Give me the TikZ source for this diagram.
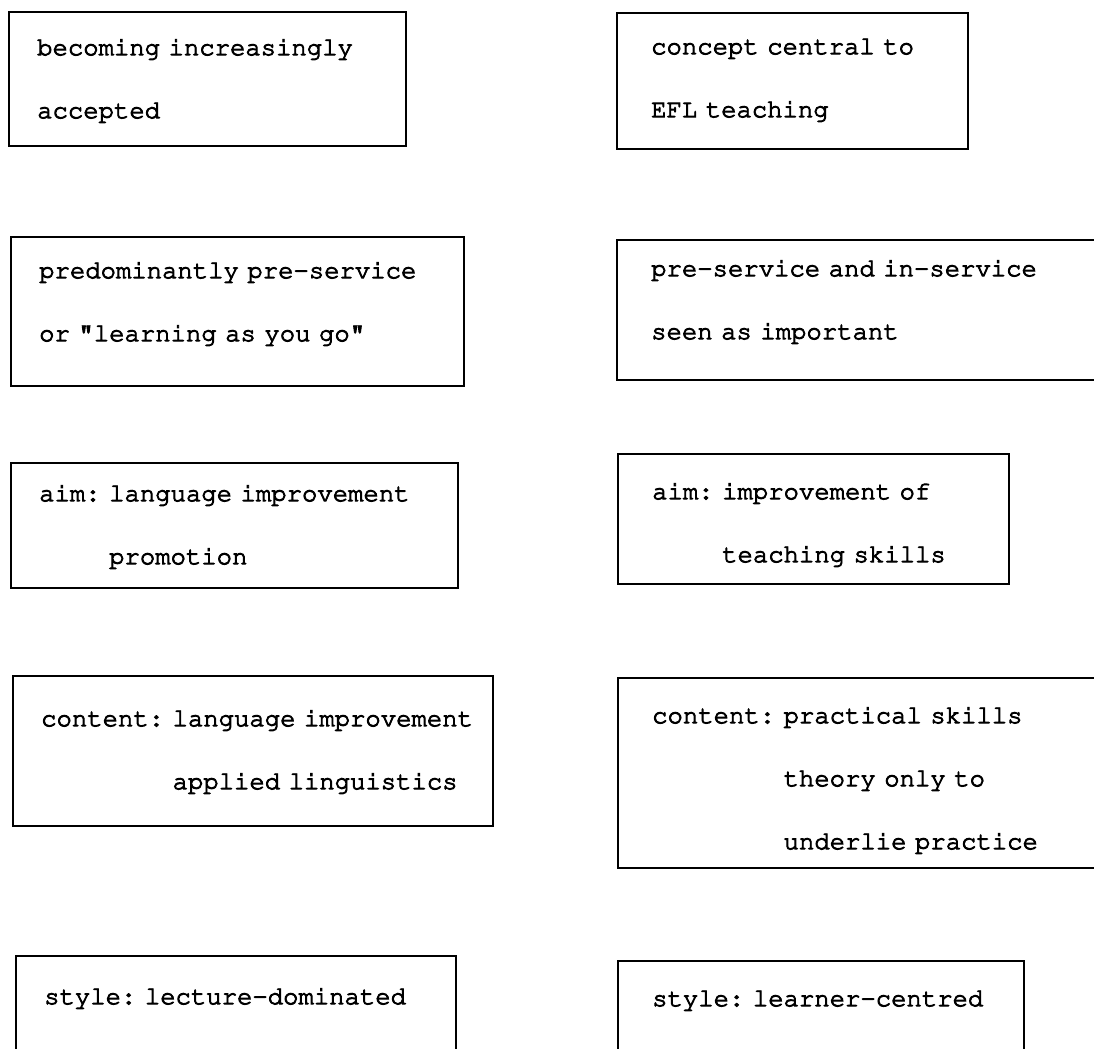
\documentclass[tikz,border=0pt]{standalone}
\usepackage[T1]{fontenc}
\usepackage{courier}

\tikzset{
  box/.style={draw, rectangle, anchor=north west, line width=1.2pt,
    inner xsep=2pt, inner ysep=0pt, align=left, text height=8pt,
    font=\ttfamily\fontsize{12.8}{31.5}\selectfont,
    execute at begin node={\leftskip=#1\special{pdf:literal direct q 2 Tr 0.45 w}},
    execute at end node={\special{pdf:literal direct Q}}},
  box/.default=12pt
}

\begin{document}
\frenchspacing
\begin{tikzpicture}[x=0.5pt, y=-0.5pt]
\useasboundingbox (0,0) rectangle (1094,1049);
\clip (0,0) rectangle (1094,1049);

% left column
\node[box, text width=194.5pt, minimum height=67pt, text depth=32pt] (accepted) at (8,11)
  {becoming increasingly\\accepted};
\node[box, text width=222.5pt, minimum height=74.5pt, text depth=41.5pt] (preservice) at (10,236)
  {predominantly pre-service\\or "learning as you go"};
\node[box, text width=219.5pt, minimum height=62.5pt, text depth=32.5pt] (aimlang) at (10,462)
  {aim: language improvement\\\phantom{aim: }promotion};
\node[box, text width=236pt, minimum height=75pt, text depth=33pt] (contlang) at (12,675)
  {content: language improvement\\\phantom{content: }applied linguistics};
\node[box, text width=216pt, minimum height=50pt, text depth=10pt] (stylelecture) at (15,955)
  {style: lecture-dominated};

% right column
\node[box=15pt, text width=171.5pt, minimum height=68pt, text depth=35pt] (central) at (616,12)
  {concept central to\\EFL teaching};
\node[box=15pt, text width=246pt, minimum height=70pt, text depth=42pt] (bothservice) at (616,239)
  {pre-service and in-service\\seen as important};
\node[box=15pt, text width=191.5pt, minimum height=65pt, text depth=28pt] (aimskills) at (617,453)
  {aim: improvement of\\\phantom{aim: }teaching skills};
\node[box=15pt, text width=246pt, minimum height=95pt, text depth=58pt] (contskills) at (617,677)
  {content: practical skills\\\phantom{content: }theory only to\\\phantom{content: }underlie practice};
\node[box=15pt, text width=199pt, minimum height=50pt, text depth=13pt] (stylelearner) at (617,960)
  {style: learner-centred};
\end{tikzpicture}
\end{document}
